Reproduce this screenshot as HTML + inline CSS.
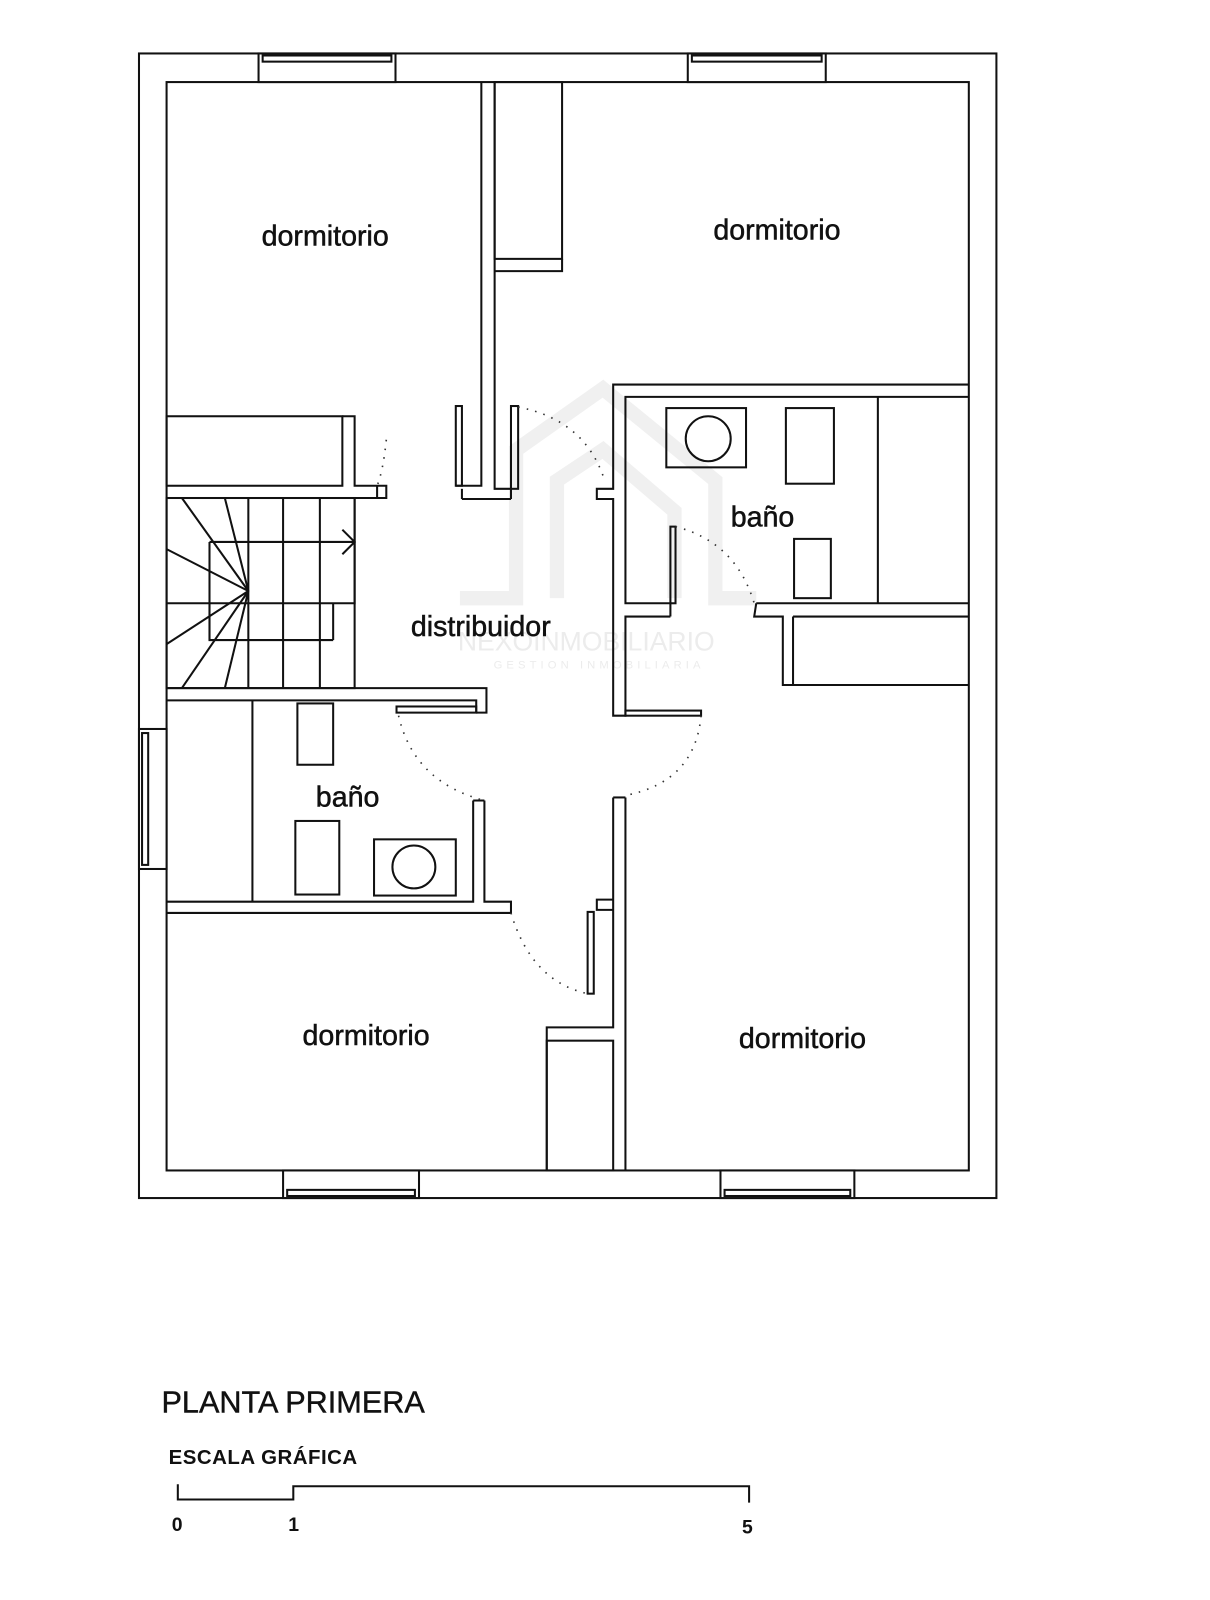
<!DOCTYPE html>
<html><head><meta charset="utf-8"><style>
html,body{margin:0;padding:0;background:#fff;}
svg{display:block;}
text{font-family:"Liberation Sans",Arial,sans-serif;fill:#111;}
.lbl{font-size:28px;stroke:#111;stroke-width:0.5px;}
</style></head><body>
<svg width="1210" height="1600" viewBox="0 0 1184 1565" xmlns="http://www.w3.org/2000/svg">
<!-- watermark -->
<g fill="none" stroke="#f0f0f0" stroke-width="14">
<polyline points="450,585 505,585 505,440 590,380 700,470 700,585 740,585"/>
<polyline points="545,585 545,470 590,440 660,500 660,585"/>
</g>
<text x="448" y="636" font-size="26" style="fill:#ececec">NEXOINMOBILIARIO</text>
<text x="483" y="654" font-size="11" letter-spacing="4" style="fill:#ececec">GESTION INMOBILIARIA</text>
<g fill="none" stroke="#111" stroke-width="2">
<rect x="136" y="52" width="839" height="1120"/>
<rect x="163" y="80" width="785" height="1065"/>
<rect x="253" y="52" width="134" height="28" fill="#fff"/><rect x="257" y="54" width="126" height="6"/>
<rect x="673" y="52" width="135" height="28" fill="#fff"/><rect x="677" y="54" width="127" height="6"/>
<rect x="277" y="1145" width="133" height="27" fill="#fff"/><rect x="281" y="1164" width="125" height="6"/>
<rect x="705" y="1145" width="131" height="27" fill="#fff"/><rect x="709" y="1164" width="123" height="6"/>
<rect x="136" y="713" width="27" height="137" fill="#fff"/><rect x="139" y="717" width="6" height="129"/>
<polyline points="471,80 471,475 446,475"/>
<polyline points="484,80 484,478 500,478"/>
<rect x="446" y="397" width="6" height="78"/>
<rect x="500" y="397" width="7" height="81"/>
<line x1="452" y1="488" x2="500" y2="488"/>
<line x1="452" y1="478" x2="452" y2="488"/><line x1="500" y1="478" x2="500" y2="488"/>
<rect x="484" y="80" width="66" height="173"/>
<polyline points="484,265 550,265 550,253"/>
<polyline points="948,376 600,376 600,478 584,478 584,488 600,488 600,700 612,700 612,603 656,603"/>
<polyline points="948,388 612,388 612,590 656,590 656,603"/>
<rect x="656" y="515" width="5" height="75"/>
<line x1="859" y1="388" x2="859" y2="590"/>
<polyline points="740,590 948,590"/>
<polyline points="740,590 738,603 766,603 766,670 948,670"/>
<polyline points="776,603 948,603"/>
<line x1="776" y1="603" x2="776" y2="670"/>
<rect x="612" y="695" width="74" height="5"/>
<rect x="652" y="399" width="78" height="58"/><circle cx="693" cy="429" r="22"/>
<rect x="769" y="399" width="47" height="74"/>
<rect x="777" y="527" width="36" height="58"/>
<polyline points="600,780 600,1005 535,1005 535,1145"/>
<polyline points="612,780 612,1145"/>
<line x1="600" y1="780" x2="612" y2="780"/>
<rect x="535" y="1018" width="65" height="127"/>
<polyline points="600,880 584,880 584,890 600,890"/>
<rect x="575" y="892" width="6" height="80"/>
<rect x="163" y="407" width="172" height="68"/>
<polyline points="335,407 347,407 347,475 378,475 378,487 163,487"/>
<line x1="369" y1="475" x2="369" y2="487"/>
<rect x="163" y="487" width="184" height="186"/>
<polyline points="347,487 347,590 205,590 205,626 326,626"/>
<line x1="205" y1="530" x2="347" y2="530"/>
<line x1="205" y1="530" x2="205" y2="626"/>
<line x1="243" y1="487" x2="243" y2="673"/>
<line x1="277" y1="487" x2="277" y2="673"/>
<line x1="313" y1="487" x2="313" y2="673"/>
<line x1="326" y1="590" x2="326" y2="626"/>
<line x1="163" y1="590" x2="205" y2="590"/>
<polyline points="335,518 347,530 335,542"/>
<line x1="243" y1="578" x2="178" y2="487"/><line x1="243" y1="578" x2="220" y2="487"/>
<line x1="243" y1="578" x2="163" y2="537"/><line x1="243" y1="578" x2="163" y2="630"/>
<line x1="243" y1="578" x2="178" y2="673"/><line x1="243" y1="578" x2="220" y2="673"/>
<polyline points="163,673 476,673 476,697 466,697"/>
<polyline points="163,685 466,685 466,697"/>
<rect x="388" y="691" width="78" height="6"/>
<line x1="247" y1="685" x2="247" y2="882"/>
<rect x="291" y="688" width="35" height="60"/>
<rect x="289" y="803" width="43" height="72"/>
<rect x="366" y="821" width="80" height="55"/><circle cx="405" cy="848" r="21"/>
<polyline points="463,783 463,882 163,882"/>
<polyline points="474,783 474,882 500,882 500,893 163,893"/>
<line x1="463" y1="783" x2="474" y2="783"/>
</g>
<g fill="none" stroke="#333" stroke-width="1.6" stroke-dasharray="1.5 7">
<path d="M378,430 Q375,460 369,475"/>
<path d="M507,398 Q570,410 590,465"/>
<path d="M661,515 Q720,530 738,590"/>
<path d="M686,700 Q680,765 612,778"/>
<path d="M390,700 Q405,765 474,783"/>
<path d="M500,893 Q520,960 575,972"/>
</g>
<text class="lbl" x="256" y="240">dormitorio</text>
<text class="lbl" x="698" y="234">dormitorio</text>
<text class="lbl" x="715" y="515">baño</text>
<text class="lbl" x="402" y="622">distribuidor</text>
<text class="lbl" x="309" y="789">baño</text>
<text class="lbl" x="296" y="1022">dormitorio</text>
<text class="lbl" x="723" y="1025">dormitorio</text>
<text x="158" y="1382" font-size="30" style="stroke:#111;stroke-width:0.4px">PLANTA PRIMERA</text>
<text x="165" y="1432" font-size="20" font-weight="bold" letter-spacing="0.5">ESCALA GRÁFICA</text>
<polyline points="174,1452 174,1467 287,1467 287,1454 733,1454 733,1470" fill="none" stroke="#111" stroke-width="2"/>
<text x="168" y="1498" font-size="19" font-weight="bold">0</text>
<text x="282" y="1498" font-size="19" font-weight="bold">1</text>
<text x="726" y="1500" font-size="19" font-weight="bold">5</text>
</svg>
</body></html>
